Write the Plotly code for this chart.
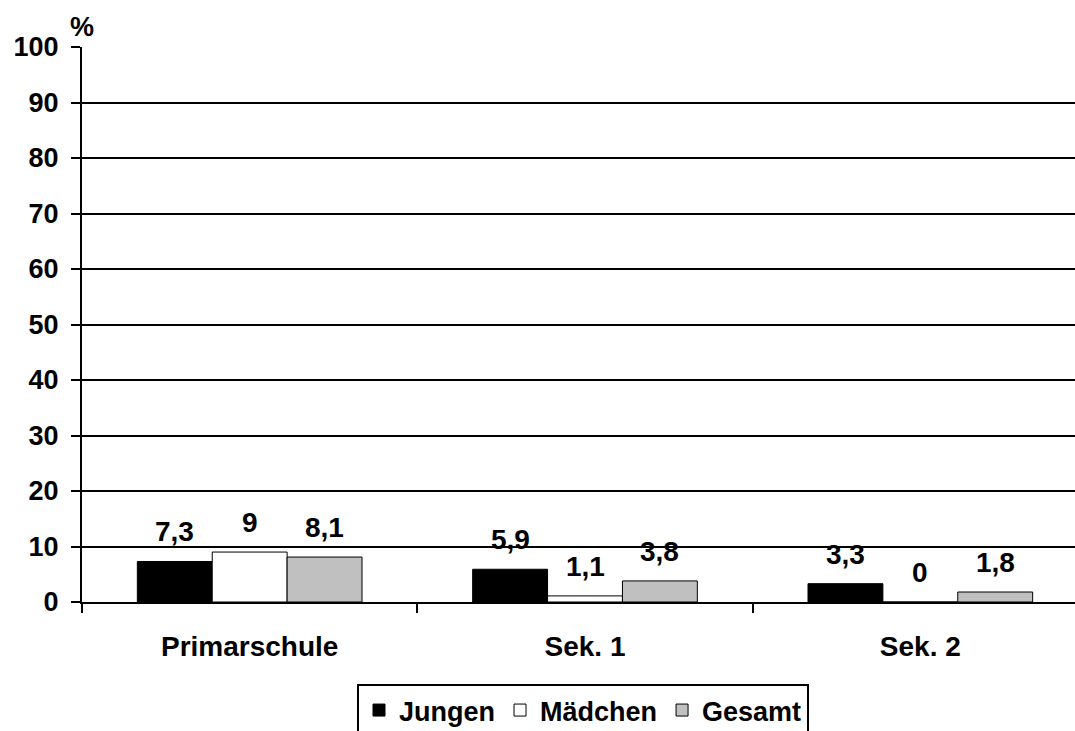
import plotly.graph_objects as go

categories = ["Primarschule", "Sek. 1", "Sek. 2"]
jungen = [7.3, 5.9, 3.3]
maedchen = [9, 1.1, 0]
gesamt = [8.1, 3.8, 1.8]
series_names = ["Jungen", "Mädchen", "Gesamt"]
series_colors = ["#000000", "#FFFFFF", "#C0C0C0"]
y_ticks = list(range(0, 101, 10))

FONT = "Liberation Sans, Arial, sans-serif"
BARGAP = 0.33

fig = go.Figure()
all_series = [jungen, maedchen, gesamt]
for name, vals, col in zip(series_names, all_series, series_colors):
    fig.add_trace(go.Bar(
        x=categories, y=vals, name=name,
        marker=dict(color=col, line=dict(color="#000000", width=1)),
    ))

def fmt(v):
    return ("%g" % v).replace(".", ",")

bw = (1 - BARGAP) / 3
for k, vals in enumerate(all_series):
    for i, v in enumerate(vals):
        fig.add_annotation(
            x=i + (k - 1) * bw, y=v, xref="x", yref="y",
            text=fmt(v), showarrow=False, yanchor="bottom", yshift=12,
            font=dict(family=FONT, size=28, color="#000000", weight="bold"),
        )

fig.add_annotation(
    x=0, y=1, xref="paper", yref="paper", xanchor="center", yanchor="bottom",
    yshift=3, text="%", showarrow=False,
    font=dict(family=FONT, size=27, color="#000000", weight="bold"),
)

fig.update_layout(
    width=1088, height=731,
    margin=dict(l=82, r=0, t=47, b=129, autoexpand=False),
    paper_bgcolor="#FFFFFF", plot_bgcolor="#FFFFFF",
    barmode="group", bargap=BARGAP, bargroupgap=0,
    font=dict(family=FONT, size=27, color="#000000", weight="bold"),
    showlegend=True,
    legend=dict(
        orientation="h", xref="container", yref="container",
        x=583 / 1088, xanchor="center", y=1 - 684 / 731, yanchor="top",
        bordercolor="#000000", borderwidth=2, bgcolor="#FFFFFF",
        font=dict(family=FONT, size=27, color="#000000", weight="bold"),
        traceorder="normal", itemwidth=30,
    ),
)

fig.update_yaxes(
    range=[0, 100], tickvals=y_ticks, ticktext=[str(t) for t in y_ticks],
    showgrid=True, gridcolor="#000000", gridwidth=2,
    showline=True, linecolor="#000000", linewidth=2,
    ticks="outside", ticklen=9, tickwidth=2, tickcolor="#000000",
    zeroline=False, ticklabelstandoff=7, automargin=False,
    tickfont=dict(family=FONT, size=27, color="#000000", weight="bold"),
)
fig.update_xaxes(
    range=[-0.5, 2.5],
    showline=True, linecolor="#000000", linewidth=2,
    ticks="outside", tickson="boundaries", ticklen=9, tickwidth=2, tickcolor="#000000",
    showgrid=False, ticklabelstandoff=18, automargin=False,
    tickfont=dict(family=FONT, size=28, color="#000000", weight="bold"),
)

fig.write_html(
    "out.html",
    config={"displayModeBar": False},
    post_script="document.body.style.margin='0';document.body.style.overflow='hidden';",
)
